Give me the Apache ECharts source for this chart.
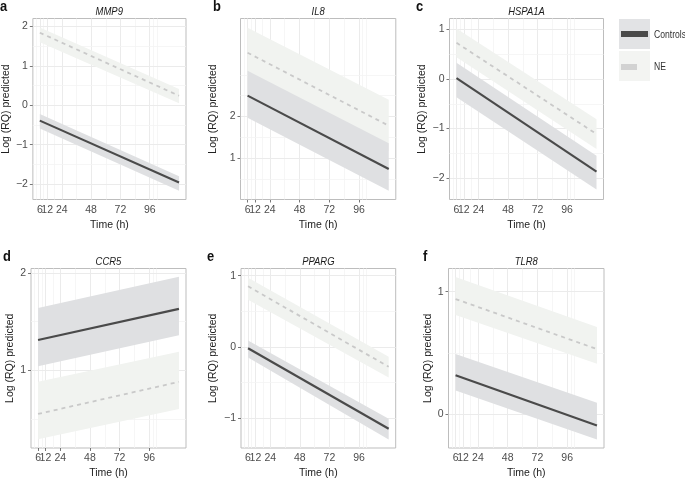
<!DOCTYPE html>
<html><head><meta charset="utf-8">
<script src="https://cdn.jsdelivr.net/npm/echarts@6/dist/echarts.min.js"></script>
<style>html,body{margin:0;padding:0;background:#fff}#c{width:685px;height:480px}</style>
</head><body><div id="c"></div>
<script>
// ---------- data ----------
const timePoints = [6, 120];
const xTickValues = [6, 12, 24, 48, 72, 96];
const xMinorGrid = [3, 9, 18, 36, 60, 84, 99, 102];
const yBreaks = [-2, -1, 0, 1, 2];
const genes = ['MMP9', 'IL8', 'HSPA1A', 'CCR5', 'PPARG', 'TLR8'];
const panelLetters = ['a', 'b', 'c', 'd', 'e', 'f'];
const groupNames = ['Controls', 'NE'];

// predicted values at 6 h and 120 h
const mmp9Controls = [-0.39, -1.96];
const mmp9ControlsLow = [-0.59, -2.17];
const mmp9ControlsHigh = [-0.22, -1.80];
const mmp9NE = [1.84, 0.24];
const mmp9NELow = [1.60, 0.05];
const mmp9NEHigh = [1.97, 0.41];

const il8Controls = [2.50, 0.74];
const il8ControlsLow = [1.97, 0.22];
const il8ControlsHigh = [3.10, 1.36];
const il8NE = [3.53, 1.78];
const il8NELow = [2.93, 1.16];
const il8NEHigh = [4.13, 2.40];

const hspa1aControls = [0.02, -1.87];
const hspa1aControlsLow = [-0.37, -2.23];
const hspa1aControlsHigh = [0.33, -1.55];
const hspa1aNE = [0.73, -1.11];
const hspa1aNELow = [0.44, -1.41];
const hspa1aNEHigh = [1.02, -0.81];

const ccr5Controls = [1.31, 1.63];
const ccr5ControlsLow = [1.04, 1.36];
const ccr5ControlsHigh = [1.64, 1.96];
const ccr5NE = [0.55, 0.88];
const ccr5NELow = [0.29, 0.60];
const ccr5NEHigh = [0.88, 1.19];

const ppargControls = [-0.02, -1.15];
const ppargControlsLow = [-0.15, -1.30];
const ppargControlsHigh = [0.09, -1.01];
const ppargNE = [0.85, -0.28];
const ppargNELow = [0.66, -0.43];
const ppargNEHigh = [0.97, -0.14];

const tlr8Controls = [0.315, -0.095];
const tlr8ControlsLow = [0.19, -0.21];
const tlr8ControlsHigh = [0.49, 0.09];
const tlr8NE = [0.94, 0.53];
const tlr8NELow = [0.81, 0.41];
const tlr8NEHigh = [1.12, 0.71];

const panelData = [
  [mmp9Controls, mmp9ControlsLow, mmp9ControlsHigh, mmp9NE, mmp9NELow, mmp9NEHigh],
  [il8Controls, il8ControlsLow, il8ControlsHigh, il8NE, il8NELow, il8NEHigh],
  [hspa1aControls, hspa1aControlsLow, hspa1aControlsHigh, hspa1aNE, hspa1aNELow, hspa1aNEHigh],
  [ccr5Controls, ccr5ControlsLow, ccr5ControlsHigh, ccr5NE, ccr5NELow, ccr5NEHigh],
  [ppargControls, ppargControlsLow, ppargControlsHigh, ppargNE, ppargNELow, ppargNEHigh],
  [tlr8Controls, tlr8ControlsLow, tlr8ControlsHigh, tlr8NE, tlr8NELow, tlr8NEHigh]
];

// ---------- layout ----------
const layout = [
  {left: 32.5, top: 18.5, width: 153.5, height: 181, yMin: -2.39, yMax: 2.20, yMinor: [-1.5, -0.5, 0.5, 1.5], nameGap: 19, lx: 0, ly: 6.5},
  {left: 240.5, top: 18.5, width: 155.3, height: 181, yMin: 0.01, yMax: 4.35, yMinor: [0.5, 1.5, 2.5, 3], nameGap: 21.5, lx: 213, ly: 6.5},
  {left: 449.5, top: 18.5, width: 154, height: 181, yMin: -2.43, yMax: 1.22, yMinor: [-1.5, -0.5, 0.5], nameGap: 21.5, lx: 416, ly: 6.5},
  {left: 31, top: 268.5, width: 155, height: 180.5, yMin: 0.2, yMax: 2.045, yMinor: [0.5, 1.5], nameGap: 15.5, lx: 3, ly: 256.5},
  {left: 241, top: 268.5, width: 154.7, height: 180.5, yMin: -1.42, yMax: 1.10, yMinor: [-0.5, 0.5], nameGap: 22, lx: 207, ly: 256.5},
  {left: 448.5, top: 268.5, width: 155.5, height: 180.5, yMin: -0.28, yMax: 1.19, yMinor: [0.5], nameGap: 13, lx: 423, ly: 256.5}
];

const FONT = "'Liberation Sans', Arial, Helvetica, sans-serif";
const AXFS = 10.5;
const C_CTRL_LINE = '#4a4a4a';
const C_CTRL_FILL = '#dfe0e2';
const C_NE_LINE = '#c9c9c9';
const C_NE_FILL = '#f1f3f0';
const GRID_MAJOR = '#ebebeb';
const GRID_MINOR = '#f4f4f4';
const SQUEEZE = 0.86;

const pairs = vals => timePoints.map((t, k) => [t, vals[k]]);
const bandRows = (lo, hi) => timePoints.map((t, k) => [t, lo[k], hi[k]]);
const minusFmt = v => String(v).replace('-', '\u2212');

function bandRenderer(color) {
  return function (params, api) {
    const k = params.dataIndexInside;
    if (k >= params.dataInsideLength - 1) return null;
    const p = [
      api.coord([api.value(0, k), api.value(1, k)]),
      api.coord([api.value(0, k + 1), api.value(1, k + 1)]),
      api.coord([api.value(0, k + 1), api.value(2, k + 1)]),
      api.coord([api.value(0, k), api.value(2, k)])
    ];
    return {type: 'polygon', shape: {points: p}, style: {fill: color, stroke: null}, silent: true};
  };
}

const grids = [], xAxes = [], yAxes = [], series = [], graphics = [];
const n = layout.length;

layout.forEach((L, i) => {
  grids.push({left: L.left, top: L.top, width: L.width, height: L.height, show: true,
    backgroundColor: '#ffffff', borderColor: '#bdbdbd', borderWidth: 1, containLabel: false});
  // the "12" label lives on an overlay axis so overlap hiding cannot drop it
  const xA = xTickValues.filter((v, k) => k !== 1);
  const xB = xTickValues.filter((v, k) => k === 1);
  xAxes[i] = {
    gridIndex: i, type: 'value', min: 0.3, max: 125.7,
    axisLine: {show: false},
    axisTick: {show: true, customValues: xTickValues, length: 3, lineStyle: {color: '#555', width: 0.8}},
    axisLabel: {customValues: xA, fontSize: AXFS, color: '#4d4d4d', margin: 5, fontFamily: FONT,
      showMinLabel: true, showMaxLabel: true, hideOverlap: false},
    splitLine: {show: false},
    name: 'Time (h)', nameLocation: 'middle', nameGap: 20,
    nameTextStyle: {fontSize: AXFS, color: '#222', fontFamily: FONT}
  };
  xAxes[n + i] = {
    gridIndex: i, type: 'value', min: 0.3, max: 125.7, position: 'bottom',
    axisLine: {show: false}, axisTick: {show: false}, splitLine: {show: false},
    axisLabel: {customValues: xB, fontSize: AXFS, color: '#4d4d4d', margin: 5, fontFamily: FONT,
      showMinLabel: true, showMaxLabel: true, hideOverlap: false}
  };
  const yVals = yBreaks.filter(v => v >= L.yMin && v <= L.yMax);
  yAxes.push({
    gridIndex: i, type: 'value', min: L.yMin, max: L.yMax,
    axisLine: {show: false},
    axisTick: {show: true, customValues: yVals, length: 3, lineStyle: {color: '#555', width: 0.8}},
    axisLabel: {customValues: yVals, fontSize: AXFS, color: '#4d4d4d', margin: 5, fontFamily: FONT,
      formatter: minusFmt, showMinLabel: true, showMaxLabel: true, hideOverlap: false},
    splitLine: {show: false},
    name: 'Log (RQ) predicted', nameLocation: 'middle', nameGap: L.nameGap,
    nameTextStyle: {fontSize: AXFS, color: '#222', fontFamily: FONT}
  });

  const [ctrl, ctrlLo, ctrlHi, ne, neLo, neHi] = panelData[i];
  const common = {xAxisIndex: i, yAxisIndex: i, silent: true, animation: false};

  // grid lines (drawn through the axes' scales)
  const ml = [];
  xTickValues.forEach(v => ml.push({xAxis: v, lineStyle: {color: GRID_MAJOR, width: 1}}));
  xMinorGrid.forEach(v => ml.push({xAxis: v, lineStyle: {color: GRID_MINOR, width: 0.8}}));
  yVals.forEach(v => ml.push({yAxis: v, lineStyle: {color: GRID_MAJOR, width: 1}}));
  L.yMinor.forEach(v => ml.push({yAxis: v, lineStyle: {color: GRID_MINOR, width: 0.8}}));
  series.push(Object.assign({}, common, {
    type: 'line', data: pairs(ctrl), symbol: 'none', showSymbol: false, lineStyle: {opacity: 0}, z: 1,
    markLine: {silent: true, z: 1, symbol: ['none', 'none'], label: {show: false}, animation: false,
      lineStyle: {type: 'solid'}, emphasis: {disabled: true}, data: ml}
  }));
  series.push({type: 'line', xAxisIndex: n + i, yAxisIndex: i, data: [], silent: true});

  // bands
  series.push(Object.assign({}, common, {type: 'custom', renderItem: bandRenderer(C_NE_FILL),
    data: bandRows(neLo, neHi), encode: {x: 0, y: [1, 2]}, z: 2}));
  series.push(Object.assign({}, common, {type: 'custom', renderItem: bandRenderer(C_CTRL_FILL),
    data: bandRows(ctrlLo, ctrlHi), encode: {x: 0, y: [1, 2]}, z: 3}));
  // lines
  series.push(Object.assign({}, common, {type: 'line', name: groupNames[1], data: pairs(ne),
    symbol: 'none', showSymbol: false, lineStyle: {color: C_NE_LINE, width: 1.8, type: [4, 4]}, z: 4}));
  series.push(Object.assign({}, common, {type: 'line', name: groupNames[0], data: pairs(ctrl),
    symbol: 'none', showSymbol: false, lineStyle: {color: C_CTRL_LINE, width: 2.1}, z: 5}));

  // gene title and panel letter
  graphics.push({type: 'text', x: L.left + L.width / 2, y: L.top - 7, z: 10, scaleX: SQUEEZE,
    style: {text: genes[i], font: 'italic 11px ' + FONT, fill: '#1a1a1a',
      textAlign: 'center', textVerticalAlign: 'middle', align: 'center', verticalAlign: 'middle'}});
  graphics.push({type: 'text', x: L.lx, y: L.ly, z: 10, scaleX: SQUEEZE,
    style: {text: panelLetters[i], font: 'bold 15px ' + FONT, fill: '#111',
      textAlign: 'left', textVerticalAlign: 'middle', align: 'left', verticalAlign: 'middle'}});
});

// legend
graphics.push({type: 'rect', shape: {x: 619, y: 19, width: 31, height: 30}, style: {fill: '#e2e3e5'}, z: 10});
graphics.push({type: 'rect', shape: {x: 621, y: 31, width: 27, height: 6}, style: {fill: C_CTRL_LINE}, z: 11});
graphics.push({type: 'rect', shape: {x: 619, y: 51, width: 31, height: 30}, style: {fill: '#f3f4f2'}, z: 10});
graphics.push({type: 'rect', shape: {x: 621, y: 64, width: 16, height: 6}, style: {fill: '#d2d2d2'}, z: 11});
graphics.push({type: 'text', x: 654, y: 35, z: 11, scaleX: SQUEEZE, style: {text: groupNames[0], font: '10px ' + FONT, fill: '#333',
  textAlign: 'left', textVerticalAlign: 'middle', align: 'left', verticalAlign: 'middle'}});
graphics.push({type: 'text', x: 654, y: 67, z: 11, scaleX: SQUEEZE, style: {text: groupNames[1], font: '10px ' + FONT, fill: '#333',
  textAlign: 'left', textVerticalAlign: 'middle', align: 'left', verticalAlign: 'middle'}});

const chart = echarts.init(document.getElementById('c'), null, {renderer: 'canvas'});
chart.setOption({
  animation: false,
  textStyle: {fontFamily: FONT},
  grid: grids, xAxis: xAxes, yAxis: yAxes, series: series, graphic: graphics
});
</script></body></html>
